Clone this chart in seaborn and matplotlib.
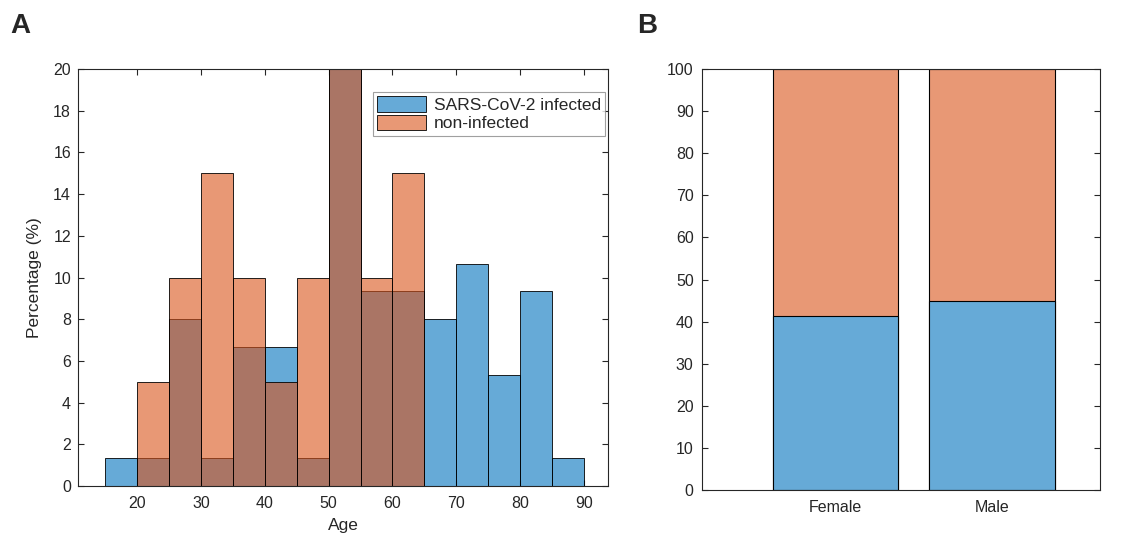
import numpy as np
import seaborn as sns
import matplotlib.pyplot as plt

# age histogram, 5-year bins, percentages per group
age_edges = [15, 20, 25, 30, 35, 40, 45, 50, 55, 60, 65, 70, 75, 80, 85, 90]
age_centers = [17.5, 22.5, 27.5, 32.5, 37.5, 42.5, 47.5, 52.5, 57.5, 62.5, 67.5, 72.5, 77.5, 82.5, 87.5]
infected_pct = [1.33, 1.33, 8, 1.33, 6.67, 6.67, 1.33, 20, 9.33, 9.33, 8, 10.67, 5.33, 9.33, 1.33]
noninfected_pct = [0, 5, 10, 15, 10, 5, 10, 20, 10, 15, 0, 0, 0, 0, 0]

# sex split
sexes = ['Female', 'Male']
sex_infected = [41.3, 45.0]
sex_total = [100, 100]

blue = '#0072BD'
orange = '#D95319'
blue_light = '#66AAD7'
orange_light = '#E89875'
axcol = '#262626'

sns.set_style('ticks')
plt.rcParams['font.family'] = ['Liberation Sans', 'DejaVu Sans']
plt.rcParams['xtick.direction'] = 'in'
plt.rcParams['ytick.direction'] = 'in'
plt.rcParams['axes.edgecolor'] = axcol
plt.rcParams['xtick.color'] = axcol
plt.rcParams['ytick.color'] = axcol
plt.rcParams['axes.linewidth'] = 0.8

fig = plt.figure(figsize=(11.23, 5.35), dpi=100)

# panel A
ax1 = fig.add_axes([78 / 1123, 49 / 535, 530 / 1123, 417 / 535])
sns.histplot(x=age_centers, weights=infected_pct, bins=age_edges, color=blue, alpha=0.6,
             edgecolor='black', linewidth=0.6, label='SARS-CoV-2 infected', ax=ax1)
sns.histplot(x=age_centers, weights=noninfected_pct, bins=age_edges, color=orange, alpha=0.6,
             edgecolor='black', linewidth=0.6, label='non-infected', ax=ax1)
ax1.set_xlim(10.75, 93.75)
ax1.set_ylim(0, 20)
ax1.set_xticks(range(20, 91, 10))
ax1.set_yticks(range(0, 21, 2))
ax1.tick_params(top=True, right=True, labelsize=11.5, length=4)
ax1.tick_params(axis='x', pad=7)
ax1.tick_params(axis='y', pad=5)
ax1.set_xlabel('Age', fontsize=12.5, color=axcol, labelpad=5)
ax1.set_ylabel('Percentage (%)', fontsize=12.5, color=axcol, labelpad=8)
for s in ax1.spines.values():
    s.set_visible(True)
leg = ax1.legend(loc='upper right', bbox_to_anchor=(0.995, 0.945), fontsize=12.5, frameon=True,
                 fancybox=False, edgecolor='#888888', handlelength=2.8, handleheight=1.0,
                 borderpad=0.25, labelspacing=0.1, handletextpad=0.45, borderaxespad=0)
leg.get_frame().set_linewidth(0.8)

# panel B
ax2 = fig.add_axes([702 / 1123, 45 / 535, 398 / 1123, 421 / 535])
sns.barplot(x=sexes, y=sex_total, color=orange_light, saturation=1, width=0.8,
            edgecolor='black', linewidth=0.8, ax=ax2)
sns.barplot(x=sexes, y=sex_infected, color=blue_light, saturation=1, width=0.8,
            edgecolor='black', linewidth=0.8, ax=ax2)
ax2.set_xlim(-0.853, 1.69)
ax2.set_ylim(0, 100)
ax2.set_yticks(range(0, 101, 10))
ax2.tick_params(top=True, right=True, labelsize=11.5, length=4)
ax2.tick_params(axis='x', pad=7)
ax2.tick_params(axis='y', pad=6)
ax2.set_xlabel('')
ax2.set_ylabel('')
for s in ax2.spines.values():
    s.set_visible(True)

fig.text(20 / 1123, 1 - 26 / 535, 'A', fontsize=20, fontweight='bold', va='center', ha='center')
fig.text(647 / 1123, 1 - 26 / 535, 'B', fontsize=20, fontweight='bold', va='center', ha='center')

fig.savefig('out.png', dpi=100)
